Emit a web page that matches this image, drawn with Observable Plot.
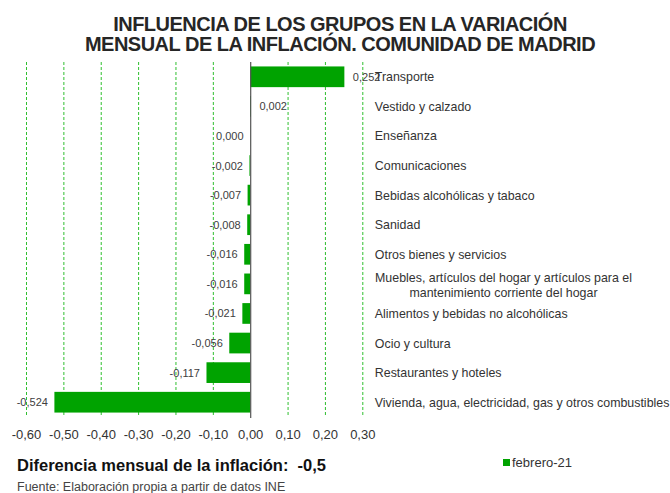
<!DOCTYPE html>
<html>
<head>
<meta charset="utf-8">
<script src="https://cdn.jsdelivr.net/npm/d3@7"></script>
<script src="https://cdn.jsdelivr.net/npm/@observablehq/plot@0.6"></script>
<style>
  body { margin: 0; background: #fff; font-family: "Liberation Sans", Arial, sans-serif; }
  #wrap { position: relative; width: 670px; height: 493px; overflow: hidden; }
  #title { position: absolute; left: 0; top: 14px; width: 680px; text-align: center; font-weight: bold; font-size: 20px; line-height: 20px; color: #262626; letter-spacing: -0.5px; }
  #chart { position: absolute; left: 0; top: 56px; }
  #diff { position: absolute; left: 17px; top: 456px; font-weight: bold; font-size: 16.5px; color: #111; }
  #src { position: absolute; left: 17px; top: 480px; font-size: 12.5px; color: #444; }
  #legend { position: absolute; left: 503px; top: 455px; font-size: 13px; color: #333; display: flex; align-items: center; }
  #legend span.sw { display: inline-block; width: 7px; height: 7px; background: #00a300; margin-right: 2px; }
</style>
</head>
<body>
<div id="wrap">
  <div id="title">INFLUENCIA DE LOS GRUPOS EN LA VARIACIÓN<br>MENSUAL DE LA INFLACIÓN. COMUNIDAD DE MADRID</div>
  <div id="chart"></div>
  <div id="diff">Diferencia mensual de la inflación:&nbsp; -0,5</div>
  <div id="src">Fuente: Elaboración propia a partir de datos INE</div>
  <div id="legend"><span class="sw"></span>febrero-21</div>
</div>
<script>
const categories = [
  "Transporte",
  "Vestido y calzado",
  "Enseñanza",
  "Comunicaciones",
  "Bebidas alcohólicas y tabaco",
  "Sanidad",
  "Otros bienes y servicios",
  "Muebles, artículos del hogar y artículos para el\nmantenimiento corriente del hogar",
  "Alimentos y bebidas no alcohólicas",
  "Ocio y cultura",
  "Restaurantes y hoteles",
  "Vivienda, agua, electricidad, gas y otros combustibles"
];
const values = [0.252, 0.002, -0.0004, -0.002, -0.007, -0.008, -0.016, -0.016, -0.021, -0.056, -0.117, -0.524];
const xTicks = [-0.6, -0.5, -0.4, -0.3, -0.2, -0.1, 0, 0.1, 0.2, 0.3];
const seriesName = "febrero-21";

const data = categories.map((c, i) => ({cat: c, value: values[i]}));
const clean = s => s.replace("\u2212", "-").replace(".", ",");
const fmt3 = v => { let s = d3.format(".3f")(v).replace("\u2212", "-"); if (s === "-0.000") s = "0.000"; return clean(s); };
const fmt2 = v => clean(d3.format(".2f")(v));
const green = "#00a300";
const multi = categories.filter(c => c.includes("\n"));
const single = categories.filter(c => !c.includes("\n"));

const plot = Plot.plot({
  width: 670,
  height: 392,
  marginLeft: 26,
  marginRight: 307.7,
  marginTop: 6,
  marginBottom: 31,
  style: {fontFamily: "'Liberation Sans', Arial, sans-serif", background: "#fff"},
  x: {domain: [-0.6, 0.3], ticks: xTicks, tickFormat: fmt2, label: null},
  y: {domain: categories, paddingInner: 0.3, paddingOuter: 0.15, round: false, axis: null},
  marks: [
    Plot.ruleX(xTicks.filter(t => t !== 0), {stroke: "#2fbf2f", strokeWidth: 1, strokeDasharray: "3,2"}),
    Plot.barX(data, {x: "value", y: "cat", fill: green}),
    Plot.ruleX([0], {stroke: "#555", strokeWidth: 1.2, insetBottom: -1}),
    Plot.axisX({ticks: xTicks, tickFormat: fmt2, tickSize: 0, tickPadding: 12, fontSize: 13, fill: "#333", label: null}),
    Plot.text(data.filter(d => d.value > 0), {x: "value", y: "cat", text: d => fmt3(d.value), dx: 8, textAnchor: "start", fontSize: 11, fill: "#404040"}),
    Plot.text(data.filter(d => d.value <= 0), {x: "value", y: "cat", text: d => fmt3(d.value), dx: -7, textAnchor: "end", fontSize: 11, fill: "#404040"}),
    Plot.text(single, {y: d => d, text: d => d, frameAnchor: "right", dx: 12, textAnchor: "start", fontSize: 12.4, fill: "#333"}),
    Plot.text(multi, {y: d => d, text: d => d, frameAnchor: "right", dx: 140.7, textAnchor: "middle", lineHeight: 1.2, fontSize: 12.4, fill: "#333"})
  ]
});
document.getElementById("chart").appendChild(plot);
</script>
</body>
</html>
